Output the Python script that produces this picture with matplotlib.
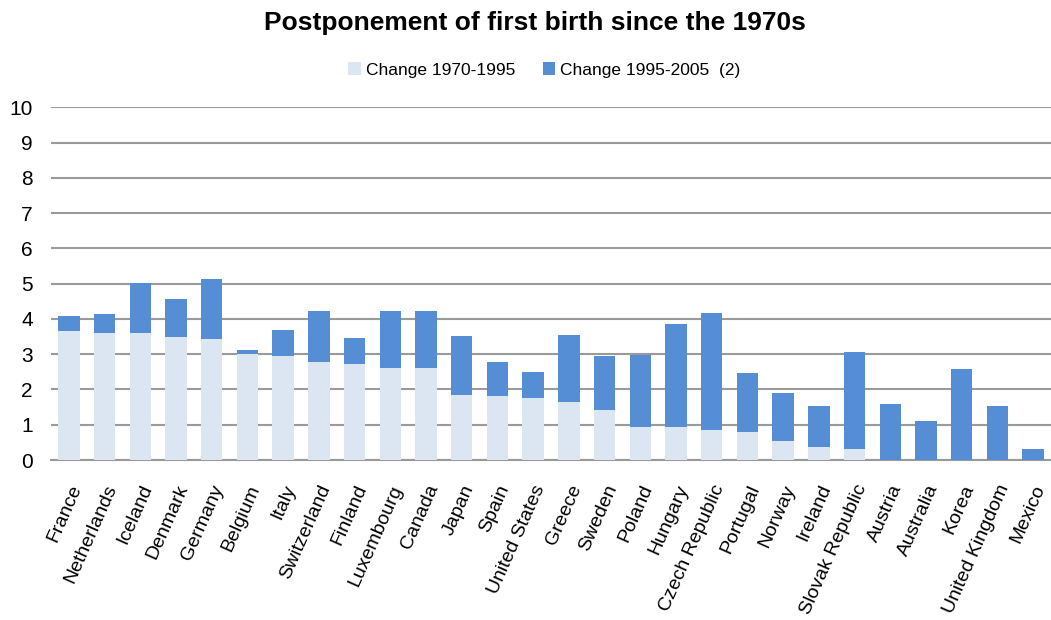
import numpy as np
import matplotlib
matplotlib.use('Agg')
import matplotlib.pyplot as plt

plt.rcParams['font.family'] = ['Liberation Sans', 'DejaVu Sans']

countries = ['France', 'Netherlands', 'Iceland', 'Denmark', 'Germany', 'Belgium', 'Italy',
             'Switzerland', 'Finland', 'Luxembourg', 'Canada', 'Japan', 'Spain', 'United States',
             'Greece', 'Sweden', 'Poland', 'Hungary', 'Czech Republic', 'Portugal', 'Norway',
             'Ireland', 'Slovak Republic', 'Austria', 'Australia', 'Korea', 'United Kingdom', 'Mexico']
# change 1970-1995
ch_1970_1995 = [3.65, 3.60, 3.60, 3.48, 3.44, 3.00, 2.96, 2.78, 2.73, 2.60, 2.60, 1.85, 1.81, 1.76,
                1.64, 1.42, 0.93, 0.93, 0.85, 0.80, 0.54, 0.36, 0.31, 0, 0, 0, 0, 0]
# total (top of bar)
total = [4.08, 4.13, 5.01, 4.57, 5.13, 3.12, 3.69, 4.22, 3.47, 4.22, 4.22, 3.51, 2.77, 2.50,
         3.55, 2.94, 2.99, 3.86, 4.17, 2.46, 1.89, 1.53, 3.07, 1.58, 1.10, 2.59, 1.53, 0.31]
ch_1995_2005 = [t - a for t, a in zip(total, ch_1970_1995)]

light = '#DCE6F2'
dark = '#558ED5'

fig = plt.figure(figsize=(10.51, 6.2), dpi=100)
ax = fig.add_axes([0.0485, 0.258, 0.9515, 0.569])

x = np.arange(len(countries))
ax.bar(x, ch_1970_1995, width=0.6, color=light, label='Change 1970-1995', zorder=3)
ax.bar(x, ch_1995_2005, width=0.6, bottom=ch_1970_1995, color=dark,
       label='Change 1995-2005  (2)', zorder=3)

ax.set_xlim(-0.5, len(countries) - 0.5)
ax.set_ylim(0, 10)
ax.set_yticks(range(0, 11))
ax.yaxis.grid(True, color='#9a9a9a', linewidth=1.5, zorder=0)
ax.set_axisbelow(True)
for s in ['top', 'right', 'left']:
    ax.spines[s].set_visible(False)
ax.spines['bottom'].set_color('#9a9a9a')
ax.spines['bottom'].set_linewidth(1.5)
ax.tick_params(axis='y', length=0, labelsize=15, pad=13)
ax.tick_params(axis='x', length=0, labelsize=14, pad=16)
ax.set_xticks(x)
ax.set_xticklabels(countries, rotation=66, ha='right', rotation_mode='anchor')

fig.text(0.509, 0.963, 'Postponement of first birth since the 1970s', ha='center', va='center',
         fontsize=19, fontweight='bold')
fig.legend(loc='center', bbox_to_anchor=(0.518, 0.887), ncol=2, frameon=False,
           fontsize=12.5, handlelength=0.7, handleheight=0.7, handletextpad=0.3,
           columnspacing=1.6)

fig.savefig('out.png', dpi=100)
